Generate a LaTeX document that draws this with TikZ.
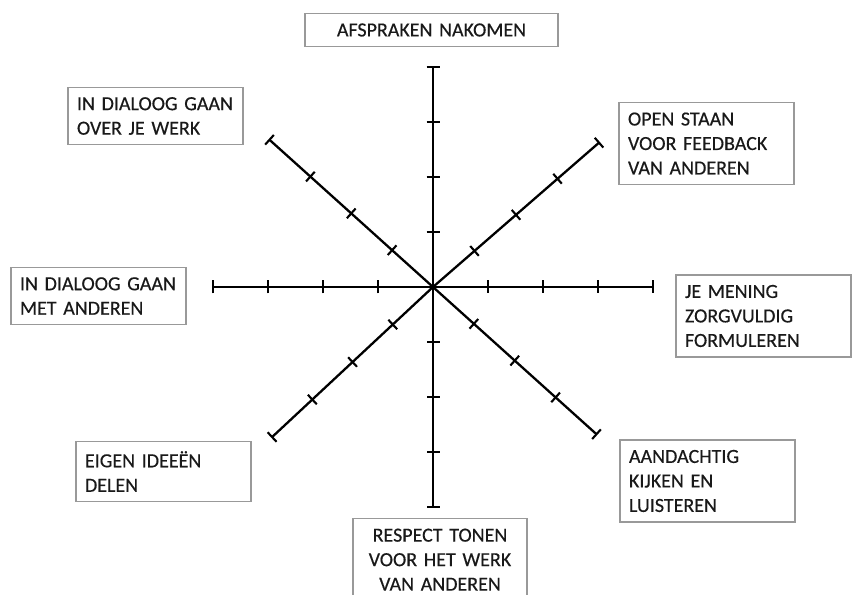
\documentclass[tikz,border=0pt]{standalone}
\usepackage{fontspec}
\setmainfont{Carlito}[FakeBold=0.4]
\usetikzlibrary{calc}
\tikzset{
    labelbox/.style={rectangle, draw=black!40, line width=1.3pt, text=black!90, inner xsep=9pt, inner ysep=10pt, font=\fontsize{20}{24.5}\selectfont},
    leftbox/.style={labelbox, text width=157pt, align=left},
    axisline/.style={line width=2.8pt, black},
    diagline/.style={line width=2.3pt, black},
    tickmark/.style={line width=2.1pt, black}
}

\begin{document}
\begin{tikzpicture}[x=1pt, y=1pt]
    \useasboundingbox (-433,-307) rectangle (423,287);
    \coordinate (O) at (0,0);
    % axes with ticks
    \foreach \ang/\w in {0/axisline, 90/axisline, 180/axisline, 270/axisline, 41/diagline, 138/diagline, 223/diagline, 318/diagline} {
        \draw[\w] (O) -- (\ang:220);
        \foreach \r in {55,110,165,220}
            \draw[tickmark] ($(\ang:\r)+(\ang+90:6.5)$) -- ($(\ang:\r)+(\ang-90:6.5)$);
    }
    % labels
    \node[labelbox, text width=235pt, align=center] (afspraken) at (-1.5,257) {AFSPRAKEN NAKOMEN};
    \node[leftbox] (werk) at (-277.5,171) {IN DIALOOG GAAN\\OVER JE WERK};
    \node[leftbox] (dialoog) at (-334.5,-9) {IN DIALOOG GAAN\\MET ANDEREN};
    \node[leftbox] (ideeen) at (-269.5,-184.5) {EIGEN IDEEËN\\DELEN};
    \node[labelbox, text width=156pt, align=center, anchor=north] (respect) at (7,-231) {RESPECT TONEN\\VOOR HET WERK\\VAN ANDEREN};
    \node[leftbox] (feedback) at (273.5,143.5) {OPEN STAAN\\VOOR FEEDBACK\\VAN ANDEREN};
    \node[leftbox] (mening) at (330.5,-29) {JE MENING\\ZORGVULDIG\\FORMULEREN};
    \node[leftbox] (aandacht) at (274.5,-194) {AANDACHTIG\\KIJKEN EN\\LUISTEREN};
\end{tikzpicture}
\end{document}
